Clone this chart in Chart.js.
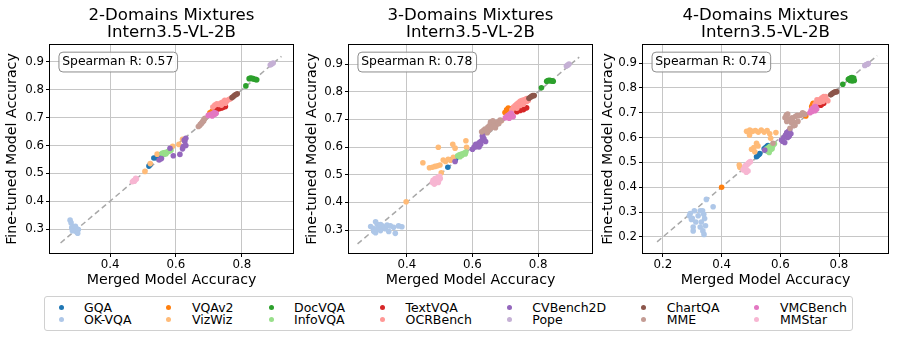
<!DOCTYPE html>
<html><head><meta charset="utf-8">
<script src="https://cdn.jsdelivr.net/npm/chart.js@4.4.1/dist/chart.umd.min.js"></script>
<style>
html,body{margin:0;padding:0;background:#fff;}
#wrap{position:relative;width:897px;height:339px;overflow:hidden;font-family:"DejaVu Sans",sans-serif;background:#fff;}
.panel{position:absolute;top:0;height:290px;}
.panel canvas{display:block;}
#legend{position:absolute;left:44px;top:296px;width:809px;height:35px;box-sizing:border-box;border:1px solid #d0d0d0;border-radius:3px;display:flex;padding:4.5px 0 0 12px;column-gap:33.5px;}
.col{display:flex;flex-direction:column;}
.item{display:flex;align-items:center;height:12.3px;font-size:12.5px;line-height:12.3px;white-space:nowrap;color:#000;}
.dot{width:8px;height:8px;position:relative;margin-right:19px;flex:none;}
.dot span{position:absolute;left:1.5px;top:1.5px;width:5px;height:5px;border-radius:50%;}
</style></head>
<body>
<div id="wrap">
  <div class="panel" id="p0"><canvas id="c0"></canvas></div>
  <div class="panel" id="p1"><canvas id="c1"></canvas></div>
  <div class="panel" id="p2"><canvas id="c2"></canvas></div>
  <div id="legend"></div>
</div>
<script>
// ---------------- DATA ----------------
const panelTitles = ['2-Domains Mixtures', '3-Domains Mixtures', '4-Domains Mixtures'];
const modelName = 'Intern3.5-VL-2B';
const spearmanR = [0.57, 0.78, 0.74];
const xAxisLabel = 'Merged Model Accuracy';
const yAxisLabel = 'Fine-tuned Model Accuracy';
const seriesNames = ['GQA','OK-VQA','VQAv2','VizWiz','DocVQA','InfoVQA','TextVQA','OCRBench','CVBench2D','Pope','ChartQA','MME','VMCBench','MMStar'];
const seriesColors = ['#1f77b4','#aec7e8','#ff7f0e','#ffbb78','#2ca02c','#98df8a','#d62728','#ff9896','#9467bd','#c5b0d5','#8c564b','#c49c94','#e377c2','#f7b6d2'];
const xLimits = [[0.218, 0.955], [0.224, 0.964], [0.132, 0.967]];
const yLimits = [[0.214, 0.961], [0.217, 0.969], [0.135, 0.973]];
const diagonalEnds = [[0.25, 0.92], [0.25, 0.925], [0.18, 0.93]];

// 2-Domains mixtures: [merged, fine-tuned]
const d2_GQA = [[0.518,0.526],[0.522,0.532],[0.533,0.555],[0.540,0.556],[0.545,0.563],[0.550,0.566],[0.556,0.567],[0.562,0.568]];
const d2_OKVQA = [[0.279,0.332],[0.282,0.322],[0.284,0.305],[0.288,0.298],[0.292,0.303],[0.296,0.296],[0.300,0.300],[0.304,0.298],[0.298,0.290],[0.302,0.285],[0.290,0.308],[0.286,0.294],[0.295,0.310]];
const d2_VQAv2 = [[0.703,0.717],[0.708,0.721],[0.712,0.725]];
const d2_VizWiz = [[0.506,0.507],[0.522,0.535],[0.543,0.569],[0.590,0.597],[0.609,0.604],[0.620,0.622]];
const d2_DocVQA = [[0.812,0.814],[0.822,0.840],[0.826,0.842],[0.830,0.841],[0.834,0.840],[0.838,0.838],[0.842,0.837],[0.845,0.836]];
const d2_InfoVQA = [[0.558,0.572],[0.563,0.574],[0.567,0.575],[0.572,0.576],[0.576,0.578],[0.580,0.580],[0.585,0.583],[0.562,0.568],[0.570,0.570]];
const d2_TextVQA = [[0.722,0.728],[0.727,0.731],[0.732,0.733],[0.738,0.735],[0.744,0.737],[0.750,0.740],[0.728,0.736]];
const d2_OCRBench = [[0.712,0.738],[0.718,0.745],[0.724,0.750],[0.730,0.747],[0.736,0.752],[0.742,0.756],[0.748,0.762],[0.754,0.760],[0.760,0.765],[0.765,0.768],[0.738,0.745],[0.750,0.752]];
const d2_CVBench2D = [[0.549,0.548],[0.556,0.553],[0.582,0.590],[0.592,0.563],[0.612,0.568],[0.622,0.596],[0.630,0.600],[0.627,0.614],[0.630,0.626],[0.625,0.620],[0.620,0.588]];
const d2_Pope = [[0.886,0.889],[0.889,0.892],[0.892,0.894],[0.895,0.896]];
const d2_ChartQA = [[0.770,0.772],[0.774,0.776],[0.778,0.780],[0.782,0.783],[0.786,0.786]];
const d2_MME = [[0.668,0.668],[0.672,0.672],[0.676,0.678],[0.680,0.684],[0.683,0.690],[0.686,0.695],[0.688,0.698],[0.674,0.676],[0.678,0.680],[0.684,0.688]];
const d2_VMCBench = [[0.698,0.708],[0.703,0.710],[0.708,0.713],[0.713,0.715],[0.718,0.712],[0.722,0.716],[0.710,0.706],[0.716,0.718]];
const d2_MMStar = [[0.468,0.470],[0.472,0.474],[0.476,0.477],[0.480,0.480],[0.474,0.472],[0.478,0.482]];

// 3-Domains mixtures
const d3_GQA = [[0.525,0.527],[0.540,0.557],[0.545,0.560],[0.550,0.562],[0.548,0.555]];
const d3_OKVQA = [[0.290,0.313],[0.298,0.305],[0.300,0.295],[0.305,0.330],[0.310,0.320],[0.315,0.310],[0.320,0.298],[0.325,0.315],[0.330,0.310],[0.335,0.305],[0.340,0.318],[0.345,0.295],[0.350,0.315],[0.360,0.310],[0.365,0.288],[0.375,0.315],[0.385,0.312],[0.305,0.290],[0.310,0.302],[0.320,0.320]];
const d3_VQAv2 = [[0.709,0.741],[0.699,0.725],[0.704,0.735],[0.687,0.695],[0.714,0.738]];
const d3_VizWiz = [[0.496,0.599],[0.540,0.610],[0.547,0.596],[0.580,0.623],[0.582,0.599],[0.449,0.543],[0.469,0.525],[0.478,0.527],[0.486,0.530],[0.494,0.532],[0.501,0.535],[0.511,0.553],[0.518,0.548],[0.526,0.556],[0.533,0.552],[0.542,0.563],[0.398,0.402],[0.505,0.507]];
const d3_DocVQA = [[0.810,0.814],[0.826,0.838],[0.830,0.840],[0.834,0.841],[0.838,0.840],[0.842,0.839],[0.846,0.838]];
const d3_InfoVQA = [[0.555,0.568],[0.560,0.572],[0.565,0.574],[0.570,0.576],[0.575,0.578],[0.580,0.582],[0.568,0.570],[0.562,0.565],[0.578,0.575]];
const d3_TextVQA = [[0.735,0.728],[0.745,0.732],[0.755,0.735],[0.760,0.740],[0.765,0.742],[0.750,0.738],[0.740,0.735]];
const d3_OCRBench = [[0.720,0.735],[0.725,0.745],[0.730,0.750],[0.735,0.755],[0.740,0.760],[0.745,0.765],[0.750,0.768],[0.755,0.770],[0.760,0.772],[0.765,0.765],[0.770,0.768],[0.745,0.750],[0.755,0.755],[0.735,0.740],[0.765,0.775]];
const d3_CVBench2D = [[0.547,0.548],[0.600,0.592],[0.605,0.600],[0.610,0.610],[0.615,0.605],[0.620,0.615],[0.625,0.620],[0.630,0.625],[0.635,0.630],[0.610,0.600],[0.620,0.600],[0.625,0.610],[0.630,0.640],[0.632,0.646],[0.640,0.620]];
const d3_Pope = [[0.886,0.893],[0.890,0.896],[0.894,0.900]];
const d3_ChartQA = [[0.772,0.776],[0.776,0.780],[0.780,0.783],[0.784,0.786],[0.788,0.786]];
const d3_MME = [[0.628,0.655],[0.633,0.660],[0.638,0.665],[0.642,0.660],[0.647,0.672],[0.652,0.678],[0.655,0.690],[0.660,0.680],[0.664,0.674],[0.668,0.686],[0.672,0.680],[0.676,0.690],[0.680,0.684],[0.684,0.698],[0.688,0.696],[0.645,0.652],[0.650,0.662],[0.658,0.670],[0.662,0.695],[0.670,0.670]];
const d3_VMCBench = [[0.700,0.706],[0.705,0.712],[0.710,0.716],[0.715,0.720],[0.720,0.714],[0.724,0.710],[0.712,0.704],[0.718,0.722]];
const d3_MMStar = [[0.478,0.472],[0.482,0.476],[0.486,0.470],[0.490,0.474],[0.494,0.478],[0.498,0.482],[0.502,0.486],[0.490,0.482],[0.486,0.486],[0.494,0.490],[0.500,0.494],[0.480,0.480],[0.496,0.472],[0.484,0.466]];

// 4-Domains mixtures
const d4_GQA = [[0.519,0.523],[0.523,0.528],[0.527,0.532],[0.530,0.536],[0.545,0.555],[0.550,0.560],[0.555,0.565],[0.558,0.568],[0.552,0.548]];
const d4_OKVQA = [[0.348,0.351],[0.371,0.321],[0.293,0.294],[0.307,0.305],[0.327,0.305],[0.339,0.291],[0.297,0.270],[0.312,0.260],[0.331,0.260],[0.342,0.274],[0.303,0.240],[0.327,0.240],[0.336,0.224],[0.303,0.224],[0.340,0.210],[0.290,0.285],[0.300,0.275],[0.320,0.285],[0.335,0.305],[0.345,0.245]];
const d4_VQAv2 = [[0.707,0.725],[0.710,0.732],[0.712,0.738],[0.687,0.687],[0.400,0.400]];
const d4_VizWiz = [[0.485,0.625],[0.496,0.630],[0.505,0.625],[0.515,0.628],[0.525,0.622],[0.535,0.630],[0.545,0.622],[0.555,0.628],[0.564,0.615],[0.585,0.620],[0.502,0.553],[0.519,0.577],[0.524,0.566],[0.513,0.543],[0.567,0.597],[0.462,0.480],[0.473,0.472],[0.460,0.489],[0.495,0.610],[0.510,0.560]];
const d4_DocVQA = [[0.813,0.815],[0.832,0.835],[0.836,0.838],[0.840,0.840],[0.844,0.842],[0.848,0.836],[0.852,0.830],[0.845,0.828],[0.838,0.830],[0.850,0.840]];
const d4_InfoVQA = [[0.553,0.555],[0.558,0.545],[0.562,0.540],[0.566,0.550],[0.570,0.560],[0.575,0.568],[0.580,0.575],[0.565,0.565],[0.560,0.560],[0.572,0.555]];
const d4_TextVQA = [[0.738,0.730],[0.742,0.735],[0.748,0.738]];
const d4_OCRBench = [[0.718,0.732],[0.722,0.740],[0.728,0.745],[0.732,0.750],[0.738,0.755],[0.742,0.760],[0.748,0.765],[0.752,0.758],[0.758,0.752],[0.762,0.748],[0.745,0.745],[0.735,0.742],[0.725,0.752],[0.755,0.765]];
const d4_CVBench2D = [[0.547,0.550],[0.604,0.590],[0.608,0.585],[0.612,0.600],[0.618,0.610],[0.622,0.620],[0.628,0.625],[0.632,0.630],[0.636,0.615],[0.625,0.600],[0.615,0.580],[0.630,0.605]];
const d4_Pope = [[0.888,0.890],[0.892,0.893],[0.896,0.895],[0.900,0.898]];
const d4_ChartQA = [[0.772,0.772],[0.777,0.777],[0.782,0.781],[0.787,0.784],[0.792,0.785]];
const d4_MME = [[0.616,0.680],[0.620,0.690],[0.625,0.695],[0.630,0.675],[0.633,0.637],[0.638,0.660],[0.642,0.668],[0.648,0.660],[0.652,0.686],[0.658,0.690],[0.662,0.688],[0.668,0.690],[0.672,0.692],[0.676,0.700],[0.680,0.696],[0.684,0.694],[0.645,0.648],[0.660,0.665],[0.622,0.665],[0.575,0.577],[0.650,0.650],[0.640,0.680]];
const d4_VMCBench = [[0.701,0.700],[0.705,0.710],[0.710,0.718],[0.715,0.722],[0.720,0.725],[0.724,0.715],[0.708,0.705],[0.718,0.708]];
const d4_MMStar = [[0.473,0.470],[0.478,0.480],[0.482,0.476],[0.486,0.490],[0.490,0.495],[0.494,0.500],[0.498,0.503],[0.487,0.466],[0.484,0.460],[0.490,0.465],[0.480,0.486]];

const panelSeries = [
  [d2_GQA,d2_OKVQA,d2_VQAv2,d2_VizWiz,d2_DocVQA,d2_InfoVQA,d2_TextVQA,d2_OCRBench,d2_CVBench2D,d2_Pope,d2_ChartQA,d2_MME,d2_VMCBench,d2_MMStar],
  [d3_GQA,d3_OKVQA,d3_VQAv2,d3_VizWiz,d3_DocVQA,d3_InfoVQA,d3_TextVQA,d3_OCRBench,d3_CVBench2D,d3_Pope,d3_ChartQA,d3_MME,d3_VMCBench,d3_MMStar],
  [d4_GQA,d4_OKVQA,d4_VQAv2,d4_VizWiz,d4_DocVQA,d4_InfoVQA,d4_TextVQA,d4_OCRBench,d4_CVBench2D,d4_Pope,d4_ChartQA,d4_MME,d4_VMCBench,d4_MMStar]
];

// ---------------- LAYOUT ----------------
const panelLayout = [
  {left:0,   width:300, yAxisW:50, padR:7, yTitlePad:4.3},
  {left:300, width:299, yAxisW:49, padR:7, yTitlePad:3.7},
  {left:599, width:298, yAxisW:44, padR:9, yTitlePad:1.3}
];

Chart.defaults.font.family = '"DejaVu Sans", sans-serif';
Chart.defaults.color = '#000';

const framePlugin = {
  id: 'frameAndStat',
  beforeDatasetsDraw(chart) {
    const {ctx, chartArea: a} = chart;
    ctx.save();
    ctx.strokeStyle = '#000';
    ctx.lineWidth = 1;
    ctx.strokeRect(Math.round(a.left) - 0.5, Math.round(a.top) - 0.5, Math.round(a.right - a.left) + 1, Math.round(a.bottom - a.top) + 1);
    ctx.restore();
  },
  afterDatasetsDraw(chart, args, opts) {
    const {ctx, chartArea: a} = chart;
    const fs = 12.4, pad = 3.7;
    const text = opts.text;
    ctx.save();
    ctx.font = fs + 'px "DejaVu Sans", sans-serif';
    const tw = ctx.measureText(text).width;
    const tx = a.left + 0.05 * (a.right - a.left);
    const ty = a.top + 0.05 * (a.bottom - a.top);
    ctx.beginPath();
    ctx.roundRect(tx - pad + 0.5, ty - pad + 0.5, tw + 2 * pad, fs + 2 * pad, 4);
    ctx.fillStyle = 'rgba(255,255,255,0.85)';
    ctx.fill();
    ctx.strokeStyle = '#8c8c8c';
    ctx.lineWidth = 1;
    ctx.stroke();
    ctx.fillStyle = '#000';
    ctx.textBaseline = 'middle';
    ctx.textAlign = 'left';
    ctx.fillText(text, tx, ty + fs / 2 + 0.5);
    ctx.restore();
  }
};

panelLayout.forEach((L, p) => {
  const div = document.getElementById('p' + p);
  div.style.left = L.left + 'px';
  div.style.width = L.width + 'px';
  const cv = document.getElementById('c' + p);
  cv.width = L.width; cv.height = 290;
  cv.style.width = L.width + 'px'; cv.style.height = '290px';

  const datasets = seriesNames.map((name, i) => ({
    type: 'scatter',
    label: name,
    data: panelSeries[p][i].map(v => ({x: v[0], y: v[1]})),
    backgroundColor: seriesColors[i],
    borderWidth: 0,
    pointRadius: 2.8,
    pointHoverRadius: 2.8,
    order: -i
  }));
  const dg = diagonalEnds[p];
  datasets.push({
    type: 'line',
    label: 'y=x',
    data: [{x: dg[0], y: dg[0]}, {x: dg[1], y: dg[1]}],
    borderColor: '#a8a8a8',
    borderWidth: 1.5,
    borderDash: [5.5, 3.5],
    pointRadius: 0,
    fill: false,
    order: 100
  });

  new Chart(cv, {
    type: 'scatter',
    data: {datasets},
    options: {
      responsive: false,
      animation: false,
      devicePixelRatio: 1,
      layout: {padding: {left: 0, right: L.padR, top: 0, bottom: 0}},
      plugins: {
        legend: {display: false},
        tooltip: {enabled: false},
        title: {
          display: true,
          fullSize: false,
          text: [panelTitles[p], modelName],
          color: '#000',
          font: {size: 16.6, weight: 'normal', lineHeight: 1.05},
          padding: {top: 6.5, bottom: 3.6}
        },
        frameAndStat: {text: 'Spearman R: ' + spearmanR[p].toFixed(2)}
      },
      scales: {
        x: {
          type: 'linear',
          min: xLimits[p][0], max: xLimits[p][1],
          afterFit: s => { s.height = 37; },
          border: {display: false},
          grid: {color: '#c6c6c6', lineWidth: 1, drawTicks: true, tickLength: 4, tickColor: '#000', tickWidth: 1},
          ticks: {stepSize: 0.2, includeBounds: false, padding: 1, color: '#000', font: {size: 11.8}, maxRotation: 0},
          title: {display: true, text: xAxisLabel, color: '#000', font: {size: 14.2}, padding: {top: 0, bottom: 1.2}}
        },
        y: {
          type: 'linear',
          min: yLimits[p][0], max: yLimits[p][1],
          afterFit: s => { s.width = L.yAxisW; },
          border: {display: false},
          grid: {color: '#c6c6c6', lineWidth: 1, drawTicks: true, tickLength: 4, tickColor: '#000', tickWidth: 1},
          ticks: {stepSize: 0.1, includeBounds: false, padding: 2, color: '#000', font: {size: 11.8}},
          title: {display: true, text: yAxisLabel, color: '#000', font: {size: 14.2}, padding: {top: L.yTitlePad, bottom: 0}}
        }
      }
    },
    plugins: [framePlugin]
  });
});

// ---------------- LEGEND ----------------
const leg = document.getElementById('legend');
for (let c = 0; c < seriesNames.length; c += 2) {
  const col = document.createElement('div');
  col.className = 'col';
  for (let k = c; k < c + 2 && k < seriesNames.length; k++) {
    const it = document.createElement('div');
    it.className = 'item';
    const d = document.createElement('span');
    d.className = 'dot';
    const s = document.createElement('span');
    s.style.background = seriesColors[k];
    d.appendChild(s);
    it.appendChild(d);
    it.appendChild(document.createTextNode(seriesNames[k]));
    col.appendChild(it);
  }
  leg.appendChild(col);
}
</script>
</body></html>
